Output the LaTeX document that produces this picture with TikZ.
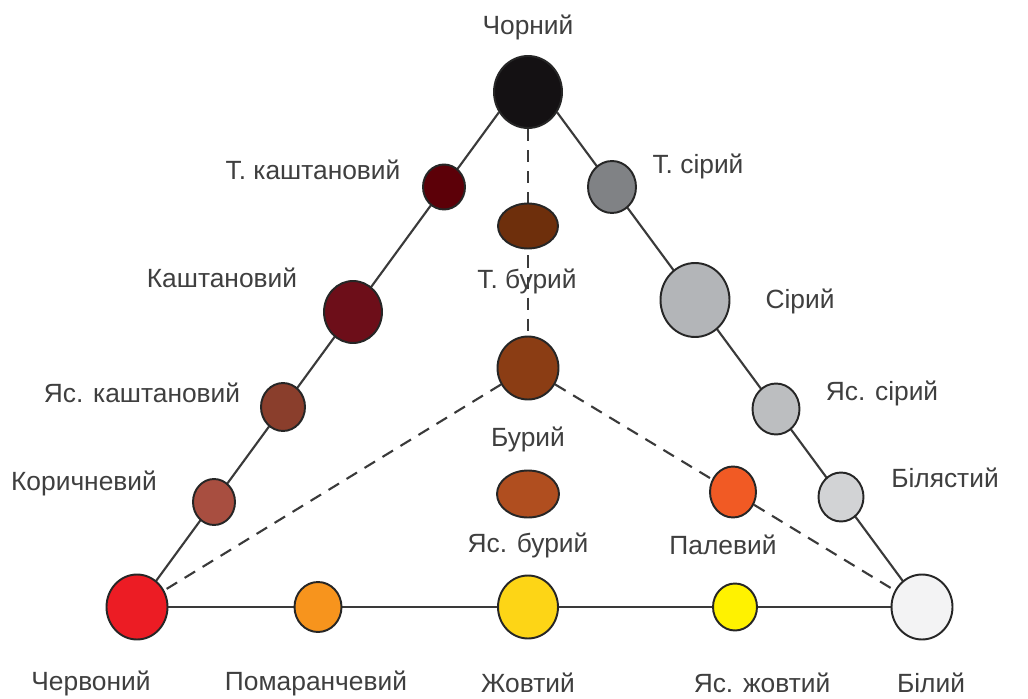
\documentclass[tikz,border=0pt]{standalone}
\usepackage{fontspec}
\setmainfont{Liberation Sans}
\usetikzlibrary{shapes.geometric,backgrounds}
\definecolor{cblack}{HTML}{141113}
\definecolor{cdchest}{HTML}{5C0008}
\definecolor{cchest}{HTML}{6D0E19}
\definecolor{clchest}{HTML}{8A3E2C}
\definecolor{cbrownish}{HTML}{A84E40}
\definecolor{cred}{HTML}{EC1C24}
\definecolor{corange}{HTML}{F7941D}
\definecolor{cyellow}{HTML}{FDD516}
\definecolor{clyellow}{HTML}{FFF200}
\definecolor{cwhite}{HTML}{F3F3F4}
\definecolor{cwhitish}{HTML}{D2D3D5}
\definecolor{clgrey}{HTML}{BCBEC0}
\definecolor{cgrey}{HTML}{B3B5B8}
\definecolor{cdgrey}{HTML}{808285}
\definecolor{cdbrown}{HTML}{6E2F0C}
\definecolor{cbrown}{HTML}{8B3D14}
\definecolor{clbrown}{HTML}{B04E1F}
\definecolor{cpale}{HTML}{F15A24}
\definecolor{txtgrey}{HTML}{3F3F3F}
\definecolor{linegrey}{HTML}{3A3A3A}

\begin{document}
\begin{tikzpicture}[x=0.02cm,y=-0.02cm,
  dot/.style={ellipse,draw=black!85,line width=1.1pt,inner sep=0pt},
  lbl/.style={font=\fontsize{15}{18}\selectfont,text=txtgrey},
  tline/.style={draw=linegrey,line width=1.2pt},
  dline/.style={tline,dash pattern=on 7pt off 5pt}]
  \useasboundingbox (0,0) rectangle (1028,699);

  \node[dot,fill=cblack,minimum width=1.36cm,minimum height=1.44cm] (black) at (528,92) {};
  \node[dot,fill=cred,minimum width=1.22cm,minimum height=1.3cm] (red) at (137,607) {};
  \node[dot,fill=cwhite,minimum width=1.22cm,minimum height=1.3cm] (white) at (922,607) {};

  \node[dot,fill=cdchest,minimum width=0.84cm,minimum height=0.9cm] (dchest) at (444,187) {};
  \node[dot,fill=cchest,minimum width=1.16cm,minimum height=1.24cm] (chest) at (353,312) {};
  \node[dot,fill=clchest,minimum width=0.88cm,minimum height=0.96cm] (lchest) at (283,407) {};
  \node[dot,fill=cbrownish,minimum width=0.84cm,minimum height=0.92cm] (brownish) at (214,502) {};

  \node[dot,fill=cdgrey,minimum width=0.96cm,minimum height=1.04cm] (dgrey) at (612,187) {};
  \node[dot,fill=cgrey,minimum width=1.38cm,minimum height=1.48cm] (grey) at (695,300) {};
  \node[dot,fill=clgrey,minimum width=0.94cm,minimum height=1.02cm] (lgrey) at (776,409) {};
  \node[dot,fill=cwhitish,minimum width=0.9cm,minimum height=0.98cm] (whitish) at (841,497) {};

  \node[dot,fill=corange,minimum width=0.94cm,minimum height=1.0cm] (orange) at (318,607) {};
  \node[dot,fill=cyellow,minimum width=1.2cm,minimum height=1.26cm] (yellow) at (528,607) {};
  \node[dot,fill=clyellow,minimum width=0.88cm,minimum height=0.94cm] (lyellow) at (735,607) {};

  \node[dot,fill=cdbrown,minimum width=1.2cm,minimum height=0.9cm] (dbrown) at (528,226) {};
  \node[dot,fill=cbrown,minimum width=1.22cm,minimum height=1.26cm] (brown) at (528,368) {};
  \node[dot,fill=clbrown,minimum width=1.24cm,minimum height=0.94cm] (lbrown) at (528,494) {};
  \node[dot,fill=cpale,minimum width=0.92cm,minimum height=1.02cm] (pale) at (733,492) {};

  \node[lbl] (tblack) at (528,27) {Чорний};
  \node[lbl] (tdchest) at (313,170) {Т. каштановий};
  \node[lbl] (tchest) at (222,278) {Каштановий};
  \node[lbl] (tlchest) at (142,393) {Яс. каштановий};
  \node[lbl] (tbrownish) at (84,483) {Коричневий};
  \node[lbl] (tred) at (91,683) {Червоний};
  \node[lbl] (torange) at (316,683) {Помаранчевий};
  \node[lbl] (tyellow) at (528,683) {Жовтий};
  \node[lbl] (tlyellow) at (762,683) {Яс. жовтий};
  \node[lbl] (twhite) at (931,683) {Білий};
  \node[lbl] (twhitish) at (945,478) {Білястий};
  \node[lbl] (tlgrey) at (882,393) {Яс. сірий};
  \node[lbl] (tgrey) at (800,301) {Сірий};
  \node[lbl] (tdgrey) at (698,166) {Т. сірий};
  \node[lbl] (tdbrown) at (527,281) {Т. бурий};
  \node[lbl] (tbrown) at (528,439) {Бурий};
  \node[lbl] (tlbrown) at (528,545) {Яс. бурий};
  \node[lbl] (tpale) at (723,545) {Палевий};

  \begin{pgfonlayer}{background}
    \fill[white] (0,0) rectangle (1028,699);
    \draw[tline] (black.215) -- (red.center);
    \draw[tline] (black.-35) -- (white.center);
    \draw[tline] (red.center) -- (white.center);
    \draw[dline] (black) -- (brown);
    \draw[dline] (brown) -- (red);
    \draw[dline] (brown) -- (pale) -- (white);
  \end{pgfonlayer}
\end{tikzpicture}
\end{document}
